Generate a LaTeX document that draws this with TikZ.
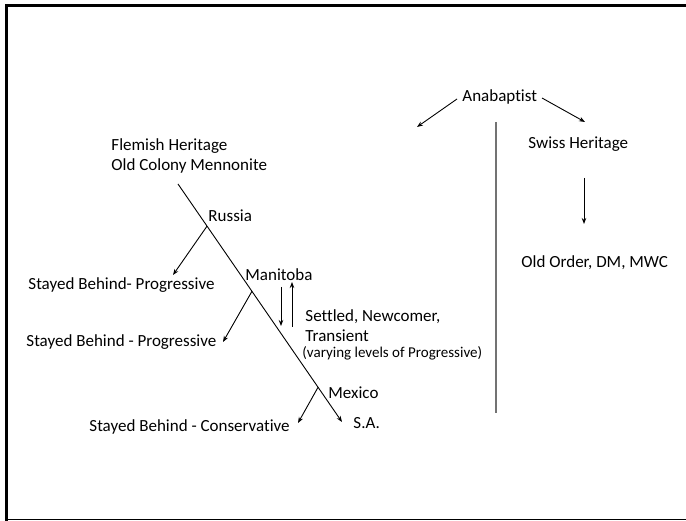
\documentclass[tikz,border=0pt]{standalone}
\usepackage{fontspec}
\setmainfont{Carlito}[Ligatures={NoCommon}]
\usetikzlibrary{calc,arrows.meta}

\tikzset{
    lbl/.style={anchor=west, inner sep=0pt, font=\fontsize{17}{20}\selectfont},
    smalllbl/.style={anchor=west, inner sep=0pt, font=\fontsize{15}{17}\selectfont},
    arr/.style={-{Stealth[length=6pt,width=4.5pt]}},
}

\begin{document}
\begin{tikzpicture}[x=1pt, y=-1pt, line width=0.9pt]
    \useasboundingbox (0,0) rectangle (686,521);

    % 1. Frame
    \draw[line width=3pt] (686,5.5) -- (6.5,5.5) -- (6.5,521);
    \draw[line width=1.2pt] (6.5,519.6) -- (686,519.6);

    % 2. Define Coordinates of the migration line
    \coordinate (top) at (178,184);
    \coordinate (sa) at (342,422);
    \coordinate (russia) at ($(top)!0.177!(sa)$);
    \coordinate (manitoba) at ($(top)!0.451!(sa)$);
    \coordinate (mexico) at ($(top)!0.854!(sa)$);

    % Arrow ends
    \coordinate (stay1) at (173,275);
    \coordinate (stay2) at (223,342);
    \coordinate (stay3) at (298,423);
    \coordinate (downA) at (281,287);
    \coordinate (downB) at (281,326);
    \coordinate (upA) at (292,327);
    \coordinate (upB) at (292,282);
    \coordinate (anaL) at (457,99);
    \coordinate (anaLtip) at (417,127);
    \coordinate (anaR) at (542,98);
    \coordinate (anaRtip) at (585,122);
    \coordinate (divTop) at (496,122);
    \coordinate (divBot) at (496,413);
    \coordinate (swissA) at (584,178);
    \coordinate (swissB) at (584,224);

    % 3. Left side labels
    \node[lbl] (flemish) at (111,146) {Flemish Heritage};
    \node[lbl] (oldcolony) at (111,166) {Old Colony Mennonite};
    \node[lbl] (russiaT) at (208,216) {Russia};
    \node[lbl] (stayedA) at (28,285) {Stayed Behind- Progressive};
    \node[lbl] (manitobaT) at (245,275) {Manitoba};
    \node[lbl] (stayedB) at (26,342) {Stayed Behind - Progressive};
    \node[lbl] (settled) at (305,317) {Settled, Newcomer,};
    \node[lbl] (transient) at (305,336) {Transient};
    \node[smalllbl] (varying) at (302,353.5) {(varying levels of Progressive)};
    \node[lbl] (mexicoT) at (328,393) {Mexico};
    \node[lbl] (saT) at (353,423) {S.A.};
    \node[lbl] (stayedC) at (89,427) {Stayed Behind - Conservative};

    % 4. Migration line and branches
    \draw[arr] (top) -- (sa);
    \draw[arr] (russia) -- (stay1);
    \draw[arr] (manitoba) -- (stay2);
    \draw[arr] (mexico) -- (stay3);
    \draw[arr] (downA) -- (downB);
    \draw[arr] (upA) -- (upB);

    % 5. Right side
    \node[lbl] (anabaptist) at (462,97) {Anabaptist};
    \node[lbl] (swiss) at (528,144) {Swiss Heritage};
    \node[lbl] (oldorder) at (521,263) {Old Order, DM, MWC};

    \draw[arr] (anaL) -- (anaLtip);
    \draw[arr] (anaR) -- (anaRtip);
    \draw[arr] (swissA) -- (swissB);
    \draw[black!55, line width=1.2pt] (divTop) -- (divBot);

\end{tikzpicture}
\end{document}
